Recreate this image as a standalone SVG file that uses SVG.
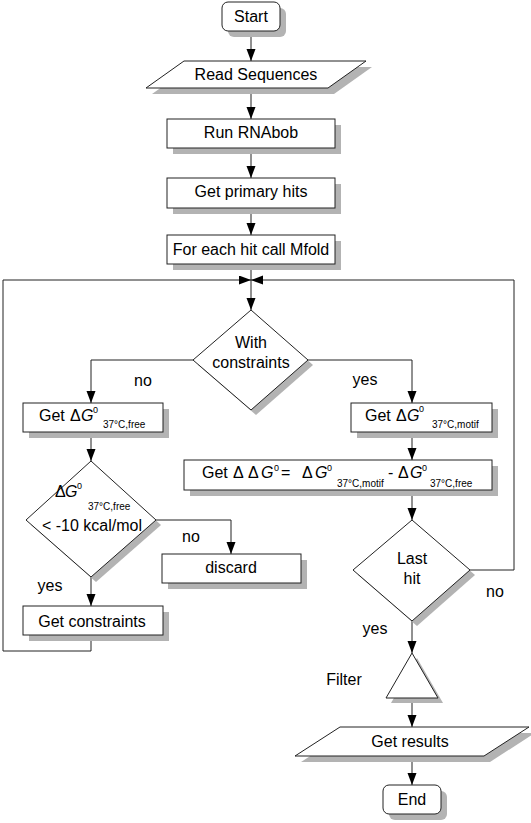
<svg xmlns="http://www.w3.org/2000/svg" width="531" height="823" viewBox="0 0 531 823">
<style>
text{font-family:"Liberation Sans",Arial,sans-serif;font-size:16px;fill:#000}
.c{text-anchor:middle}
.sh{fill:#b3b3b3;stroke:none}
.n{fill:#fff;stroke:#222;stroke-width:1}
.ln{fill:none;stroke:#222;stroke-width:1}
.i{font-style:italic}
.sup{font-size:9px}
.sub{font-size:10px}
</style>
<defs>
<marker id="ah" markerUnits="userSpaceOnUse" markerWidth="13" markerHeight="10" refX="12" refY="4.5" orient="auto">
<path d="M0,0 L12,4.5 L0,9 z" fill="#000"/>
</marker>
</defs>
<rect width="531" height="823" fill="#fff"/>

<g id="connectors" class="ln" marker-end="url(#ah)">
<line x1="251" y1="31" x2="251" y2="61"/>
<line x1="251" y1="88" x2="251" y2="119"/>
<line x1="251" y1="148" x2="251" y2="178"/>
<line x1="251" y1="208" x2="251" y2="235"/>
<line x1="251" y1="264" x2="251" y2="280" marker-end="none"/>
<line x1="251" y1="280" x2="251" y2="310"/>
<polyline points="193,360 91,360 91,403"/>
<polyline points="308,360 412,360 412,403"/>
<line x1="91" y1="432" x2="91" y2="461"/>
<line x1="412" y1="432" x2="412" y2="460"/>
<line x1="412" y1="490" x2="412" y2="520"/>
<polyline points="156,520 231,520 231,554"/>
<line x1="91" y1="577" x2="91" y2="606"/>
<polyline points="91,635 91,651 3,651 3,280 251,280"/>
<polyline points="470,570 514,570 514,280 251,280"/>
<line x1="412" y1="621" x2="412" y2="653"/>
<line x1="412" y1="698" x2="412" y2="727"/>
<line x1="412" y1="756" x2="412" y2="785"/>
</g>

<g id="start">
<rect class="sh" x="228" y="8" width="58" height="29" rx="6"/>
<rect class="n" x="222" y="2" width="58" height="29" rx="6"/>
<text class="c" x="251" y="22">Start</text>
</g>

<g id="read">
<polygon class="sh" points="190,67 372,67 334,94 152,94"/>
<polygon class="n" points="184,61 366,61 328,88 146,88"/>
<text class="c" x="256" y="80">Read Sequences</text>
</g>

<g id="rnabob">
<rect class="sh" x="173" y="125" width="168" height="29"/>
<rect class="n" x="167" y="119" width="168" height="29"/>
<text class="c" x="251" y="138">Run RNAbob</text>
</g>

<g id="primary">
<rect class="sh" x="173" y="184" width="168" height="30"/>
<rect class="n" x="167" y="178" width="168" height="30"/>
<text class="c" x="251" y="197">Get primary hits</text>
</g>

<g id="mfold">
<rect class="sh" x="173" y="241" width="168" height="29"/>
<rect class="n" x="167" y="235" width="168" height="29"/>
<text class="c" x="251" y="255">For each hit call Mfold</text>
</g>

<g id="withconstraints">
<polygon class="sh" points="256,315 313,365 256,415 198,365"/>
<polygon class="n" points="251,310 308,360 251,410 193,360"/>
<text class="c" x="251" y="348">With</text>
<text class="c" x="251" y="368">constraints</text>
</g>

<g id="getfree">
<rect class="sh" x="29" y="409" width="140" height="29"/>
<rect class="n" x="23" y="403" width="140" height="29"/>
<text x="39" y="421">Get</text>
<text x="70" y="421">Δ</text>
<text class="i" x="81" y="421">G</text>
<text class="sup" x="93" y="413">0</text>
<text class="sub" x="103" y="428">37°C,free</text>
</g>

<g id="getmotif">
<rect class="sh" x="357" y="409" width="141" height="29"/>
<rect class="n" x="351" y="403" width="141" height="29"/>
<text x="365" y="421">Get</text>
<text x="396" y="421">Δ</text>
<text class="i" x="407" y="421">G</text>
<text class="sup" x="419" y="412">0</text>
<text class="sub" x="432" y="428">37°C,motif</text>
</g>

<g id="getddg">
<rect class="sh" x="190" y="466" width="308" height="30"/>
<rect class="n" x="184" y="460" width="308" height="30"/>
<text x="202" y="478">Get</text>
<text x="233" y="478">Δ</text>
<text x="248" y="478">Δ</text>
<text class="i" x="261" y="478">G</text>
<text class="sup" x="274" y="471">0</text>
<text x="281" y="478">=</text>
<text x="302" y="478">Δ</text>
<text class="i" x="315" y="478">G</text>
<text class="sup" x="327" y="471">0</text>
<text class="sub" x="337" y="487">37°C,motif</text>
<text x="388" y="478">-</text>
<text x="398" y="478">Δ</text>
<text class="i" x="410" y="478">G</text>
<text class="sup" x="422" y="471">0</text>
<text class="sub" x="430" y="487">37°C,free</text>
</g>

<g id="threshold">
<polygon class="sh" points="96,466 161,525 96,582 31,525"/>
<polygon class="n" points="91,461 156,520 91,577 26,520"/>
<text x="55" y="497">Δ</text>
<text class="i" x="65" y="497">G</text>
<text class="sup" x="77" y="489">0</text>
<text class="sub" x="88" y="510">37°C,free</text>
<text class="c" x="92" y="531">&lt; -10 kcal/mol</text>
</g>

<g id="discard">
<rect class="sh" x="168" y="560" width="139" height="29"/>
<rect class="n" x="162" y="554" width="139" height="29"/>
<text class="c" x="231" y="573">discard</text>
</g>

<g id="getconstraints">
<rect class="sh" x="29" y="612" width="140" height="29"/>
<rect class="n" x="23" y="606" width="140" height="29"/>
<text class="c" x="92" y="627">Get constraints</text>
</g>

<g id="lasthit">
<polygon class="sh" points="417,525 475,575 417,626 358,575"/>
<polygon class="n" points="412,520 470,570 412,621 353,570"/>
<text class="c" x="412" y="564">Last</text>
<text class="c" x="412" y="584">hit</text>
</g>

<g id="filter">
<polygon class="sh" points="417,658 443,703 391,703"/>
<polygon class="n" points="412,653 438,698 386,698"/>
<text class="c" x="344" y="685">Filter</text>
</g>

<g id="results">
<polygon class="sh" points="346,733 535,733 490,762 301,762"/>
<polygon class="n" points="340,727 529,727 484,756 295,756"/>
<text class="c" x="410" y="747">Get results</text>
</g>

<g id="end">
<rect class="sh" x="389" y="791" width="58" height="29" rx="6"/>
<rect class="n" x="383" y="785" width="58" height="29" rx="6"/>
<text class="c" x="412" y="805">End</text>
</g>

<g id="labels">
<text class="c" x="143" y="386">no</text>
<text class="c" x="365" y="385">yes</text>
<text class="c" x="191" y="542">no</text>
<text class="c" x="50" y="591">yes</text>
<text class="c" x="495" y="597">no</text>
<text class="c" x="375" y="634">yes</text>
</g>
</svg>
